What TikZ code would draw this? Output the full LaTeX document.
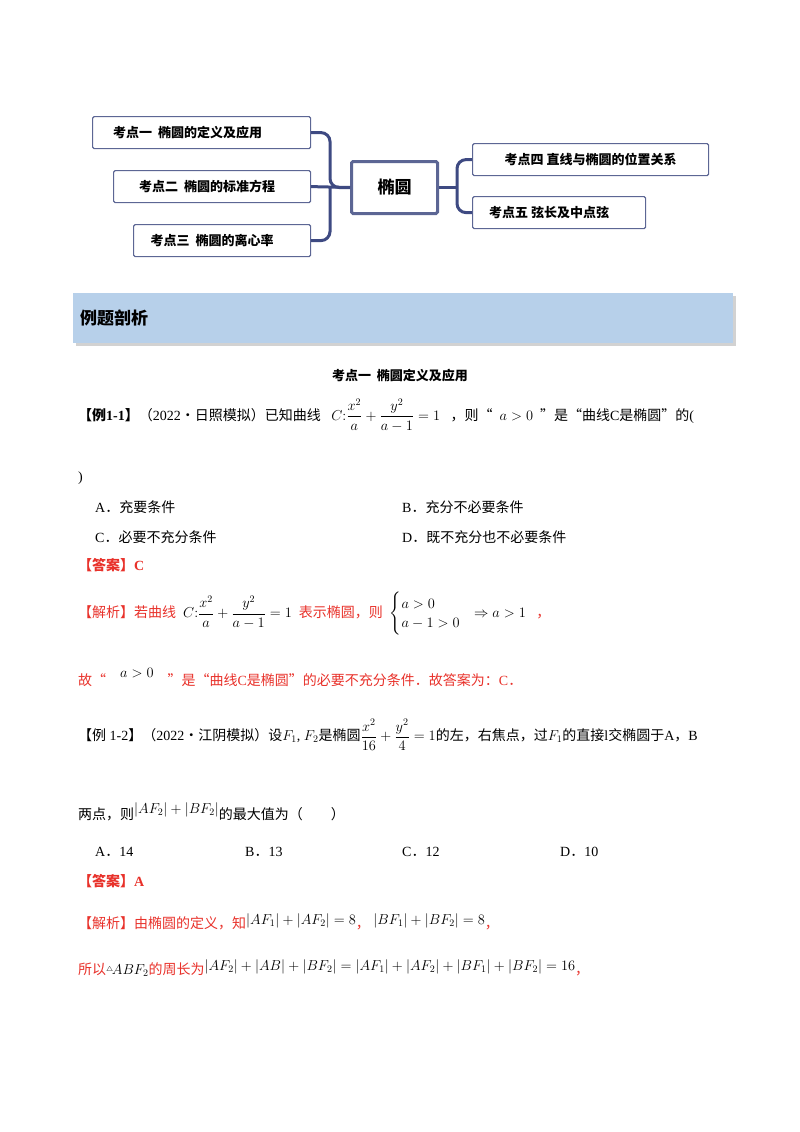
\documentclass[tikz,border=0pt]{standalone}
\usepackage{amsmath}
\usepackage{fontspec}
\setmainfont{Liberation Serif}
\newfontfamily\cjk{Noto Sans CJK SC}
\usetikzlibrary{calc}
\definecolor{navy}{HTML}{3E4A82}
\definecolor{bord}{HTML}{5C6694}
\definecolor{banner}{HTML}{B7D0EA}
\definecolor{red1}{HTML}{E8312A}
\begin{document}
\begin{tikzpicture}[x=1pt,y=-1pt,
  leaf/.style={draw=bord,line width=1.2pt,rounded corners=1.5pt,fill=white,anchor=north west,inner sep=0,font=\cjk\bfseries\fontsize{13}{15}\selectfont},
  conn/.style={draw=navy,line width=3pt,rounded corners=9pt},
  txt/.style={anchor=west,inner sep=0,font=\fontsize{14}{16}\selectfont},
  rtxt/.style={txt,text=red1}]
\useasboundingbox (0,0) rectangle (800,1132);
% mind map
\node[leaf,minimum width=218pt,minimum height=32pt] (b1) at (92,116) {\hspace*{-28pt}考点一\ \ 椭圆的定义及应用};
\node[leaf,minimum width=197pt,minimum height=32pt] (b2) at (113,170) {\hspace*{-10pt}考点二\ \ 椭圆的标准方程};
\node[leaf,minimum width=177pt,minimum height=32pt] (b3) at (133,224) {\hspace*{-20pt}考点三\ \ 椭圆的离心率};
\node[leaf,line width=3pt,minimum width=86pt,minimum height=52pt,font=\cjk\bfseries\fontsize{17}{19}\selectfont] (c) at (350,160) {椭圆};
\node[leaf,minimum width=236pt,minimum height=32pt] (r1) at (472,143) {考点四\ 直线与椭圆的位置关系};
\node[leaf,minimum width=173pt,minimum height=32pt] (r2) at (472,196) {\hspace*{-20pt}考点五\ 弦长及中点弦};
\draw[conn] (b1.east) -| ($(c.west)+(-20,0)$) -- (c.west);
\draw[conn] (b3.east) -| ($(c.west)+(-20,0)$);
\draw[conn] (b2.east) -- (c.west);
\draw[conn] (r1.west) -| ($(c.east)+(18,0)$) |- (r2.west);
\draw[conn] (c.east) -- ($(c.east)+(18,0)$);
% banner
\fill[gray!35] (76,296) rectangle (736,346);
\node[fill=banner,anchor=north west,minimum width=660pt,minimum height=50pt,inner sep=0] (ban) at (73,293) {};
\node[txt,font=\cjk\bfseries\fontsize{17}{19}\selectfont] (bt) at (80,318) {例题剖析};
% text
\node[anchor=center,inner sep=0,font=\cjk\bfseries\fontsize{13}{15}\selectfont] (h1) at (400,376) {考点一\ \ 椭圆定义及应用};
\node[txt] (l1) at (78,415) {{\cjk\bfseries 【例}\textbf{1-1}{\cjk\bfseries 】}{\cjk（}2022{\cjk·日照模拟）已知曲线}\ \ \ $C{:}\dfrac{x^2}{a}+\dfrac{y^2}{a-1}=1$\ \ \ {\cjk，则“}\ \ $a>0$\ \ {\cjk”是“曲线}C{\cjk 是椭圆”的}(};
\node[txt] (l2) at (78,478) {)};
\node[txt] (oa) at (95,507) {A{\cjk．充要条件}};
\node[txt] (ob) at (402,507) {B{\cjk．充分不必要条件}};
\node[txt] (oc) at (95,537) {C{\cjk．必要不充分条件}};
\node[txt] (od) at (402,537) {D{\cjk．既不充分也不必要条件}};
\node[rtxt] (ans1) at (78,565) {{\cjk\bfseries 【答案】}\textbf{C}};
\node[rtxt] (an1) at (78,614) {{\cjk 【解析】若曲线}\ \ \textcolor{black}{$C{:}\dfrac{x^2}{a}+\dfrac{y^2}{a-1}=1$}\ \ {\cjk 表示椭圆，则}\ \ \textcolor{black}{$\begin{cases}a>0\\ a-1>0\end{cases}\!\!\Rightarrow a>1$}\ \ \ {\cjk，}};
\node[rtxt] (an2) at (78,677) {{\cjk 故“}\quad\raisebox{8pt}{\textcolor{black}{$a>0$}}\quad{\cjk ”是“曲线}C{\cjk 是椭圆”的必要不充分条件．故答案为：}C{\cjk．}};
\node[txt] (e2) at (78,735) {{\cjk 【例} 1-2{\cjk 】（}2022{\cjk·江阴模拟）设}$F_1$, $F_2${\cjk 是椭圆}$\dfrac{x^2}{16}+\dfrac{y^2}{4}=1${\cjk 的左，右焦点，过}$F_1${\cjk 的直接}l{\cjk 交椭圆于}A{\cjk，}B};
\node[txt] (e3) at (78,812) {{\cjk 两点，则}\raisebox{6pt}{$|AF_2|+|BF_2|$}{\cjk 的最大值为（\qquad ）}};
\node[txt] (pa) at (95,852) {A{\cjk．}14};
\node[txt] (pb) at (245,852) {B{\cjk．}13};
\node[txt] (pc) at (402,852) {C{\cjk．}12};
\node[txt] (pd) at (560,852) {D{\cjk．}10};
\node[rtxt] (ans2) at (78,881) {{\cjk\bfseries 【答案】}\textbf{A}};
\node[rtxt] (an3) at (78,922) {{\cjk 【解析】由椭圆的定义，知}\raisebox{4pt}{\textcolor{black}{$|AF_1|+|AF_2|=8$}}{\cjk，}\ \raisebox{4pt}{\textcolor{black}{$|BF_1|+|BF_2|=8$}}{\cjk，}};
\node[rtxt] (an4) at (78,968) {{\cjk 所以}\textcolor{black}{\raisebox{3pt}{$\scriptscriptstyle\triangle\!$}$ABF_2$}{\cjk 的周长为}\raisebox{4pt}{\textcolor{black}{$|AF_2|+|AB|+|BF_2|=|AF_1|+|AF_2|+|BF_1|+|BF_2|=16$}}{\cjk，}};
\end{tikzpicture}
\end{document}
